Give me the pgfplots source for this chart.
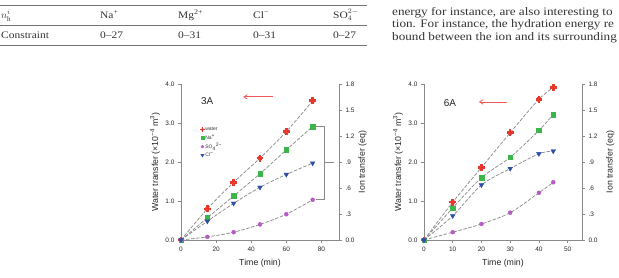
\documentclass[border=0pt]{standalone}
\usepackage{pgfplots}
\pgfplotsset{compat=1.18}
\usepackage{pgfplotstable}
\usepackage{fontspec}
\setmainfont{Liberation Serif}
\newfontfamily\bodyfont[FakeStretch=1.15]{Liberation Serif}
\newfontfamily\chartfont{Liberation Sans}
\usetikzlibrary{arrows.meta}

\definecolor{waterred}{HTML}{E8372D}
\definecolor{nagreen}{HTML}{3CB54A}
\definecolor{sopurple}{HTML}{B65BC4}
\definecolor{clblue}{HTML}{2D4FA5}
\definecolor{fitgray}{HTML}{8C8C8C}
\definecolor{axisgray}{HTML}{8A8A8A}
\definecolor{textgray}{HTML}{333333}
\definecolor{arrowred}{HTML}{F05A5A}

% filled circle with a thick cross, used for the water series
\pgfdeclareplotmark{fatplus}{%
  \pgfpathcircle{\pgfpointorigin}{0.72\pgfplotmarksize}\pgfusepathqfill
  \pgfpathrectangle{\pgfpoint{-\pgfplotmarksize}{-0.38\pgfplotmarksize}}{\pgfpoint{2\pgfplotmarksize}{0.76\pgfplotmarksize}}\pgfusepathqfill
  \pgfpathrectangle{\pgfpoint{-0.38\pgfplotmarksize}{-\pgfplotmarksize}}{\pgfpoint{0.76\pgfplotmarksize}{2\pgfplotmarksize}}\pgfusepathqfill
}

% water transfer, 10^-4 m^3
\pgfplotstableread{
t   w
0   0
15  0.80
30  1.48
45  2.10
60  2.78
75  3.57
}\waterA
% ion transfer, eq
\pgfplotstableread{
t   na     so    cl
0   0      0     0
15  0.256  0.036 0.216
30  0.509  0.090 0.423
45  0.765  0.180 0.608
60  1.040  0.297 0.756
75  1.310  0.464 0.887
}\ionsA
\pgfplotstableread{
t   w
0   0
10  0.97
20  1.86
30  2.75
40  3.61
45  3.91
}\waterB
\pgfplotstableread{
t   na     so    cl
0   0      0     0
10  0.369  0.090 0.279
20  0.720  0.185 0.635
30  0.954  0.315 0.824
40  1.265  0.545 0.995
45  1.449  0.666 1.026
}\ionsB

\newcommand\labelfont{\chartfont\fontsize{8.8}{10}\selectfont}
\pgfplotsset{
  panel/.style={
    scale only axis, width=158bp, height=156bp,
    clip=false,
    axis line style={axisgray, line width=0.7bp},
    tick style={axisgray, line width=0.7bp},
    tick align=outside, major tick length=3bp,
    ticklabel style={font=\chartfont\fontsize{6.5}{7}\selectfont, text=black!85},
  },
  leftpanel/.style={panel,
    axis x line*=bottom, axis y line*=left,
    ymin=0, ymax=4,
    ytick={0,1,2,3,4}, yticklabels={0.0,1.0,2.0,3.0,4.0},
    xlabel={Time (min)},
    ylabel={Water transfer (\texttimes10\textsuperscript{−4} m\textsuperscript{3})},
    every axis x label/.style={at={(axis description cs:0.5,-0.147)}, anchor=center, font=\labelfont, text=black!85},
    every axis y label/.style={at={(axis description cs:-0.165,0.5)}, anchor=center, rotate=90, font=\labelfont, text=black!85},
  },
  rightpanel/.style={panel,
    axis x line=none, axis y line*=right,
    ymin=0, ymax=1.8,
    ytick={0,0.3,0.6,0.9,1.2,1.5,1.8}, yticklabels={0.0,.3,.6,.9,1.2,1.5,1.8},
    ylabel={Ion transfer (eq)},
  },
  rlabel/.style={every axis y label/.style={at={(axis description cs:#1,0.5)}, anchor=center, rotate=90, font=\labelfont, text=black!85}},
  fit/.style={fitgray, line width=0.75bp, dash pattern=on 3.5bp off 1.6bp, smooth, tension=0.5, no marks},
  waterpts/.style={only marks, mark=fatplus, mark size=3.4bp, color=waterred},
  napts/.style={only marks, mark=square*, mark size=2.3bp, color=nagreen},
  sopts/.style={only marks, mark=*, mark size=2.0bp, color=sopurple},
  clpts/.style={only marks, mark=triangle*, mark size=2.7bp, color=clblue, mark options={rotate=180}},
}

\begin{document}
\begin{tikzpicture}
\useasboundingbox (0,0) rectangle (619bp,278bp);

\begin{scope}[x=1bp, y=1bp]
% ---- table of hydration-number constraints ----
\begin{scope}[font=\bodyfont\fontsize{10}{12}\selectfont, text=textgray]
  \draw[black!55, line width=0.7bp] (0,272.5) -- (367,272.5) (0,253) -- (367,253) (0,233) -- (367,233);
  \node[anchor=base west, inner sep=0] at (1,259.5) {\(n_{\mathrm{h}}^{i}\)};
  \node[anchor=base west, inner sep=0] at (100,260) {Na\textsuperscript{+}};
  \node[anchor=base west, inner sep=0] at (178,260) {Mg\textsuperscript{2+}};
  \node[anchor=base west, inner sep=0] at (253,260) {Cl\textsuperscript{−}};
  \node[anchor=base west, inner sep=0] at (333,260) {SO\(_4^{2-}\)};
  \node[anchor=base west, inner sep=0] at (1,240) {Constraint};
  \node[anchor=base west, inner sep=0] at (100,240) {0–27};
  \node[anchor=base west, inner sep=0] at (178,240) {0–31};
  \node[anchor=base west, inner sep=0] at (253,240) {0–31};
  \node[anchor=base west, inner sep=0] at (333,240) {0–27};
\end{scope}

% ---- running text ----
\begin{scope}[font=\bodyfont\fontsize{11.5}{12}\selectfont, text=textgray]
  \node[anchor=base west, inner sep=0] at (392,262.2) {energy for instance, are also interesting to};
  \node[anchor=base west, inner sep=0] at (392,250.2) {tion. For instance, the hydration energy re};
  \node[anchor=base west, inner sep=0] at (392,238.0) {bound between the ion and its surrounding};
\end{scope}
\end{scope}

% ---- panel 3A ----
\begin{axis}[leftpanel, at={(181bp,38bp)}, anchor=south west,
    xmin=0, xmax=90, xtick={0,20,40,60,80}, xticklabels={0,20,40,60,80}]
  \addplot[fit] table[x=t, y=w] {\waterA};
  \addplot[waterpts] table[x=t, y=w] {\waterA};
  \node[font=\chartfont\fontsize{10}{11}\selectfont, text=black!85] at (axis cs:14.9,3.56) {3A};
  \draw[arrowred, line width=0.8bp, -{Straight Barb[length=3.5bp, width=4.5bp]}] (axis cs:52.6,3.67) -- (axis cs:35.4,3.67);
\end{axis}
\begin{axis}[rightpanel, rlabel=1.150, at={(181bp,38bp)}, anchor=south west,
    xmin=0, xmax=90, xtick=\empty,
    legend cell align=left,
    legend style={at={(axis description cs:0.12,0.728)}, anchor=north west, draw=none, fill=none,
      inner sep=0pt, row sep=1.2bp, font=\chartfont\fontsize{5}{5.5}\selectfont,
      nodes={inner sep=0.6bp, text=black!80}},
    legend image code/.code={\draw[#1] plot coordinates {(1bp,0bp)};}]
  \addplot[fit, forget plot] table[x=t, y=na] {\ionsA};
  \addplot[fit, forget plot] table[x=t, y=so] {\ionsA};
  \addplot[fit, forget plot] table[x=t, y=cl] {\ionsA};
  \addplot[napts, forget plot] table[x=t, y=na] {\ionsA};
  \addplot[sopts, forget plot] table[x=t, y=so] {\ionsA};
  \addplot[clpts, forget plot] table[x=t, y=cl] {\ionsA};
  \addlegendimage{only marks, mark=fatplus, mark size=2.3bp, color=waterred}
  \addlegendentry{water}
  \addlegendimage{only marks, mark=square*, mark size=1.6bp, color=nagreen}
  \addlegendentry{Na\textsuperscript{+}}
  \addlegendimage{only marks, mark=*, mark size=1.5bp, color=sopurple}
  \addlegendentry{SO\textsubscript{4}\textsuperscript{2−}}
  \addlegendimage{only marks, mark=triangle*, mark size=1.9bp, color=clblue, mark options={rotate=180}}
  \addlegendentry{Cl\textsuperscript{−}}
  % bracket grouping the ion curves
  \draw[axisgray, line width=0.7bp] (axis cs:77.1,1.31) -- (axis cs:81.7,1.31) -- (axis cs:81.7,0.464) -- (axis cs:77.1,0.464);
  \draw[axisgray, line width=0.7bp] (axis cs:81.7,0.9) -- (axis cs:86.9,0.9);
\end{axis}

% ---- panel 6A ----
\begin{axis}[leftpanel, at={(424bp,38bp)}, anchor=south west,
    xmin=0, xmax=55, xtick={0,10,20,30,40,50}, xticklabels={0,10,20,30,40,50}]
  \addplot[fit] table[x=t, y=w] {\waterB};
  \addplot[waterpts] table[x=t, y=w] {\waterB};
  \node[font=\chartfont\fontsize{10}{11}\selectfont, text=black!85] at (axis cs:9.0,3.51) {6A};
  \draw[arrowred, line width=0.8bp, -{Straight Barb[length=3.5bp, width=4.5bp]}] (axis cs:28.8,3.54) -- (axis cs:19.1,3.54);
\end{axis}
\begin{axis}[rightpanel, rlabel=1.18, at={(424bp,38bp)}, anchor=south west,
    xmin=0, xmax=55, xtick=\empty]
  \addplot[fit] table[x=t, y=na] {\ionsB};
  \addplot[fit] table[x=t, y=so] {\ionsB};
  \addplot[fit] table[x=t, y=cl] {\ionsB};
  \addplot[napts] table[x=t, y=na] {\ionsB};
  \addplot[sopts] table[x=t, y=so] {\ionsB};
  \addplot[clpts] table[x=t, y=cl] {\ionsB};
\end{axis}
\end{tikzpicture}
\end{document}
